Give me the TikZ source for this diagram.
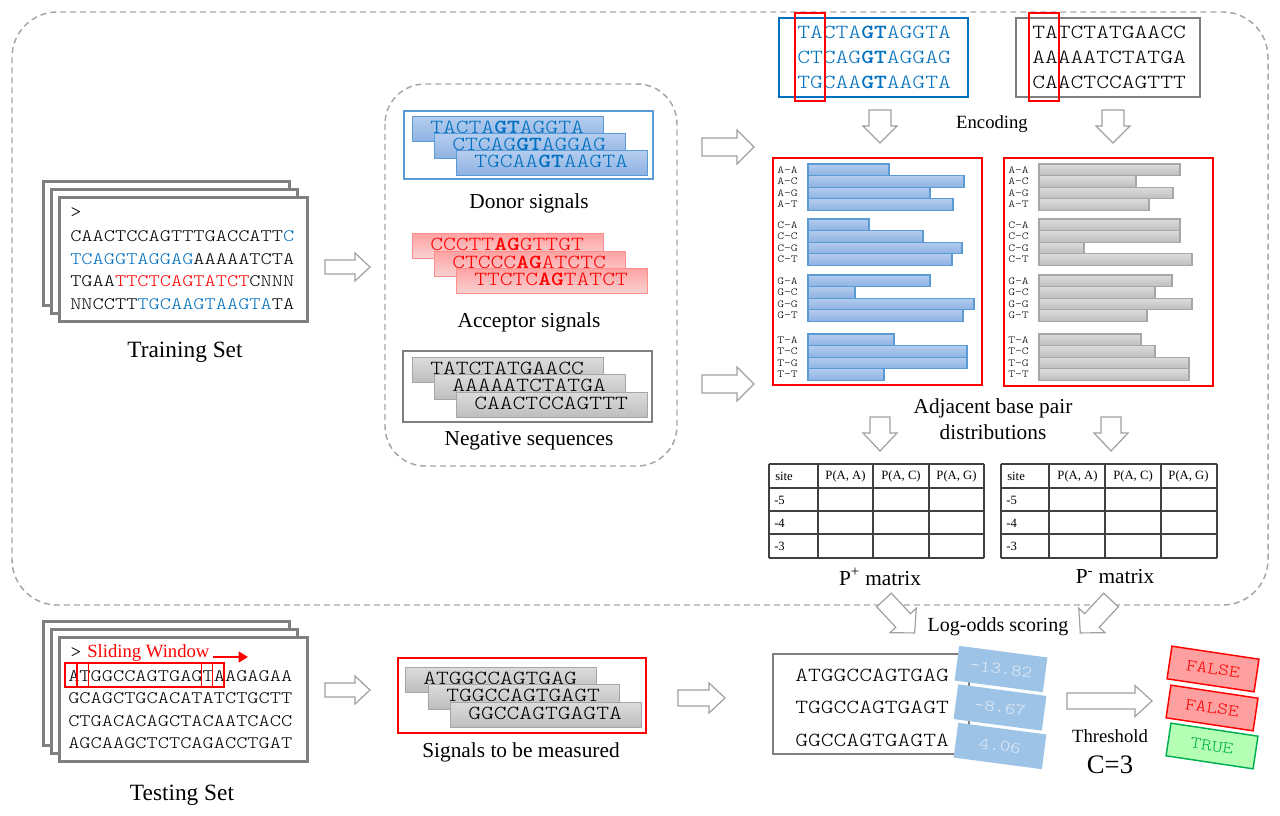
\documentclass[tikz,border=0pt]{standalone}
\usepackage{fontspec}
\setmainfont{Liberation Serif}
\setmonofont{lmmonolt10-regular.otf}[BoldFont=lmmonolt10-bold.otf, FakeStretch=1.219]
\usetikzlibrary{calc,arrows.meta}
\definecolor{seqblue}{HTML}{0070C0}
\definecolor{dashgray}{HTML}{A6A6A6}
\definecolor{framegray}{HTML}{7F7F7F}
\definecolor{arrowgray}{HTML}{A0A0A0}
\definecolor{bluebord}{HTML}{5B9BD5}
\definecolor{bluetop}{HTML}{B4CCEE}
\definecolor{bluebot}{HTML}{8DB2E2}
\definecolor{graybord}{HTML}{A6A6A6}
\definecolor{graytop}{HTML}{DCDCDC}
\definecolor{graybot}{HTML}{BEBEBE}
\definecolor{pinkbord}{HTML}{FF8F8F}
\definecolor{pinktop}{HTML}{FFA3A3}
\definecolor{pinkbot}{HTML}{F7D3D3}
\definecolor{scoreblue}{HTML}{9DC3E6}
\definecolor{scoretext}{HTML}{E4ECF6}
\definecolor{falsefill}{HTML}{FFA0A0}
\definecolor{truefill}{HTML}{B5FFB5}
\definecolor{truegreen}{HTML}{00B050}
\definecolor{tablegray}{HTML}{404040}
\newlength\px \setlength\px{0.75pt}
\newcommand\blockarrow[7]{%
  \begin{scope}[shift={(#1,#2)},rotate=#3]
    \draw[hollow] (0,-#6) -- ({#4-#5},-#6) -- ({#4-#5},-#7) -- (#4,0) -- ({#4-#5},#7) -- ({#4-#5},#6) -- (0,#6) -- cycle;
  \end{scope}}
\newcommand\seqstrip[5]{%
  \path[#4] (#2,#3) rectangle ++(191,25);
  \node[seq] (#1) at ({#2+18},{#3+17}) {#5};}
\begin{document}
\begin{tikzpicture}[x=0.75pt,y=-0.75pt,
  lbl/.style={font=\fontsize{16}{19}\selectfont, inner sep=0},
  lblbig/.style={font=\fontsize{17.5}{20}\selectfont, inner sep=0},
  lblsmall/.style={font=\fontsize{14}{17}\selectfont, inner sep=0},
  seq/.style={font=\fontsize{15}{18}\selectfont\ttfamily, inner sep=0, anchor=base west},
  tseq/.style={font=\fontsize{13.125}{16}\selectfont\ttfamily, inner sep=0, anchor=base west},
  barlbl/.style={font=\fontsize{8}{10}\selectfont\ttfamily, inner sep=0, anchor=west},
  tbltxt/.style={font=\fontsize{9.5}{11}\selectfont, inner sep=0},
  frame/.style={draw=framegray, line width=2.25pt, fill=white},
  hollow/.style={draw=arrowgray, fill=white, line width=0.9pt, line join=miter},
  dashbox/.style={draw=dashgray, line width=1.1pt, dash pattern=on 4.5pt off 3pt},
  bluestrip/.style={draw=bluebord, line width=0.75pt, top color=bluetop, bottom color=bluebot},
  graystrip/.style={draw=graybord, line width=0.75pt, top color=graytop, bottom color=graybot},
  pinkstrip/.style={draw=pinkbord, line width=0.75pt, top color=pinktop, bottom color=pinkbot},
  bluebar/.style={draw=bluebord, line width=1pt, top color=bluetop, bottom color=bluebot},
  graybar/.style={draw=graybord, line width=1pt, top color=graytop, bottom color=graybot},
  tbl/.style={draw=tablegray, line width=1.1pt},
  score/.style={fill=scoreblue, minimum width=89*\px, minimum height=35*\px, inner sep=0,
     font=\fontsize{12.2}{14}\selectfont\ttfamily, text=scoretext},
  verdict/.style={line width=1.1pt, minimum width=88*\px, minimum height=33*\px, inner sep=0,
     font=\fontsize{12.65}{14}\selectfont\ttfamily}
]
\useasboundingbox (0,0) rectangle (1280,816);
\fill[white] (0,0) rectangle (1280,816);

% dashed frames
\draw[dashbox, rounded corners=34pt] (12,12) rectangle (1268,605);
\draw[dashbox, rounded corners=30pt] (385,84) rectangle (677,466);

% ---------------- Training set
\draw[frame] (43,182) rectangle (289,306);
\draw[frame] (51,190) rectangle (297,314);
\draw[frame] (59,198) rectangle (307,322);
\node[tseq] (tr0) at (70,218) {>};
\node[tseq] (tr1) at (70,242) {CAACTCCAGTTTGACCATT\textcolor{seqblue}{C}};
\node[tseq] (tr2) at (70,264.5) {\textcolor{seqblue}{TCAGGTAGGAG}AAAAATCTA};
\node[tseq] (tr3) at (70,287) {TGAA\textcolor{red}{TTCTCAGTATCT}CNNN};
\node[tseq] (tr4) at (70,309.5) {NNCCTT\textcolor{seqblue}{TGCAAGTAAGTA}TA};
\node[lblbig] (trainlbl) at (185,352) {Training Set};

% ---------------- Signals
\draw[draw=bluebord, line width=1pt] (404,111) rectangle (653,179);
\seqstrip{d1}{412}{117}{bluestrip}{\textcolor{seqblue}{TACTA\textbf{GT}AGGTA}}
\seqstrip{d2}{434}{134}{bluestrip}{\textcolor{seqblue}{CTCAG\textbf{GT}AGGAG}}
\seqstrip{d3}{456}{151}{bluestrip}{\textcolor{seqblue}{TGCAA\textbf{GT}AAGTA}}
\node[lbl] (donorlbl) at (529,203) {Donor signals};

\seqstrip{a1}{412}{234}{pinkstrip}{\textcolor{red}{CCCTT\textbf{AG}GTTGT}}
\seqstrip{a2}{434}{252}{pinkstrip}{\textcolor{red}{CTCCC\textbf{AG}ATCTC}}
\seqstrip{a3}{456}{269}{pinkstrip}{\textcolor{red}{TTCTC\textbf{AG}TATCT}}
\node[lbl] (acclbl) at (529,322) {Acceptor signals};

\draw[draw=framegray, line width=1pt] (403,351) rectangle (652,422);
\seqstrip{n1}{412}{357}{graystrip}{TATCTATGAACC}
\seqstrip{n2}{434}{374.5}{graystrip}{AAAAATCTATGA}
\seqstrip{n3}{456}{392}{graystrip}{CAACTCCAGTTT}
\node[lbl] (neglbl) at (529,441) {Negative sequences};

% ---------------- Top aligned sequences
\draw[draw=seqblue, line width=1.1pt] (779,18) rectangle (968,97);
\node[seq, text=seqblue] (s1) at (797,39) {TACTA\textbf{GT}AGGTA};
\node[seq, text=seqblue] (s2) at (797,64) {CTCAG\textbf{GT}AGGAG};
\node[seq, text=seqblue] (s3) at (797,89) {TGCAA\textbf{GT}AAGTA};
\draw[red, line width=1.1pt] (795,13) rectangle (825,101);
\draw[draw=framegray, line width=1.1pt] (1016,18) rectangle (1200,97);
\node[seq] (g1) at (1032,39) {TATCTATGAACC};
\node[seq] (g2) at (1032,64) {AAAAATCTATGA};
\node[seq] (g3) at (1032,89) {CAACTCCAGTTT};
\draw[red, line width=1.1pt] (1029,13) rectangle (1059,101);
\node[lblsmall] (enc) at (992,124) {Encoding};

% ---------------- Bar charts
\draw[red, line width=1.1pt] (773,158) rectangle (982,385);
\foreach \g/\gy/\bA/\bC/\bG/\bT in {A/164/889/964/930/953, C/219/869/923/962/952, G/275/930/855/974/963, T/334/894/967/967/884}{
  \foreach \s/\i/\e in {A/0/\bA, C/1/\bC, G/2/\bG, T/3/\bT}{
    \path[bluebar] (808,{\gy+\i*11.6}) rectangle (\e,{\gy+(\i+1)*11.6});
    \node[barlbl] (L\g\s) at (777,{\gy+(\i+0.5)*11.6}) {\g-\s};
  }}
\draw[red, line width=1.1pt] (1004,158) rectangle (1213,386);
\foreach \g/\gy/\bA/\bC/\bG/\bT in {A/164/1180/1136/1173/1149, C/219/1180/1180/1084/1192, G/275/1172/1155/1192/1147, T/334/1141/1155/1189/1189}{
  \foreach \s/\i/\e in {A/0/\bA, C/1/\bC, G/2/\bG, T/3/\bT}{
    \path[graybar] (1039,{\gy+\i*11.6}) rectangle (\e,{\gy+(\i+1)*11.6});
    \node[barlbl] (R\g\s) at (1008,{\gy+(\i+0.5)*11.6}) {\g-\s};
  }}
\node[lbl] (adj1) at (993,408) {Adjacent base pair};
\node[lbl] (adj2) at (993,432) {distributions};

% ---------------- Matrices
\foreach \x in {769,818,873,929,984} \draw[tbl] (\x,464) -- (\x,558);
\foreach \y in {464,488,511,534,558} \draw[tbl] (769,\y) -- (984,\y);
\foreach \x in {1001,1049,1105,1161,1217} \draw[tbl] (\x,464) -- (\x,558);
\foreach \y in {464,488,511,534,558} \draw[tbl] (1001,\y) -- (1217,\y);
\foreach \side/\xo in {P/0, M/232}{
  \node[tbltxt, anchor=west] (\side site) at ({775+\xo},476) {site};
  \node[tbltxt] (\side c1) at ({845.5+\xo},476) {P(A, A)};
  \node[tbltxt] (\side c2) at ({901+\xo},476) {P(A, C)};
  \node[tbltxt] (\side c3) at ({956.5+\xo},476) {P(A, G)};
  \node[tbltxt, anchor=west] (\side r1) at ({774+\xo},500) {-5};
  \node[tbltxt, anchor=west] (\side r2) at ({774+\xo},523) {-4};
  \node[tbltxt, anchor=west] (\side r3) at ({774+\xo},546) {-3};
}
\node[lbl] (pplus) at (880,577) {P\textsuperscript{+} matrix};
\node[lbl] (pminus) at (1115,577) {P\textsuperscript{-} matrix};
\node[lbl, font=\fontsize{15}{18}\selectfont] (logodds) at (998,627) {Log-odds scoring};

% ---------------- Testing set
\draw[frame] (43,621) rectangle (289,745);
\draw[frame] (51,629) rectangle (297,753);
\draw[frame] (59,637) rectangle (307,761);
\node[tseq] (te0) at (70,657) {>};
\node[lblsmall, anchor=base west, text=red] (slide) at (87,657) {Sliding Window};
\coordinate (ra1) at (213,657);
\coordinate (ra2) at (248,657);
\draw[red, line width=2.2pt, -{Triangle[length=7pt,width=8pt]}] (ra1) -- (ra2);
\node[tseq] (te1) at (68,681) {ATGGCCAGTGAGTAAGAGAA};
\node[tseq] (te2) at (68,703) {GCAGCTGCACATATCTGCTT};
\node[tseq] (te3) at (68,726) {CTGACACAGCTACAATCACC};
\node[tseq] (te4) at (68,748) {AGCAAGCTCTCAGACCTGAT};
\draw[red, line width=0.8pt] (65,663) rectangle (201.5,687);
\draw[red, line width=0.8pt] (77,663) rectangle (212.5,687);
\draw[red, line width=0.8pt] (88.5,663) rectangle (224,687);
\node[lblbig] (testlbl) at (182,795) {Testing Set};

% ---------------- Signals to be measured
\draw[red, line width=1.1pt] (398,658) rectangle (646,733);
\seqstrip{m1}{405}{667}{graystrip}{ATGGCCAGTGAG}
\seqstrip{m2}{428}{684}{graystrip}{TGGCCAGTGAGT}
\seqstrip{m3}{450}{702}{graystrip}{GGCCAGTGAGTA}
\node[lbl] (measlbl) at (521,752) {Signals to be measured};

% ---------------- Scoring
\draw[draw=framegray, line width=0.9pt] (773,654) rectangle (969,754);
\node[seq] (l1) at (795,681) {ATGGCCAGTGAG};
\node[seq] (l2) at (795,713) {TGGCCAGTGAGT};
\node[seq] (l3) at (795,746) {GGCCAGTGAGTA};
\node[score, rotate=-7.5] (sc1) at (1001,669) {-13.82};
\node[score, rotate=-7.5] (sc2) at (1000,707.5) {-8.67};
\node[score, rotate=-7.5] (sc3) at (1000,746) {4.06};
\node[lblsmall] (thr) at (1110,736) {Threshold};
\node[lbl, font=\fontsize{20}{24}\selectfont] (cval) at (1110,765) {C=3};
\node[verdict, rotate=-8.5, draw=red, fill=falsefill, text=red] (v1) at (1213,669) {FALSE};
\node[verdict, rotate=-8.5, draw=red, fill=falsefill, text=red] (v2) at (1212,708) {FALSE};
\node[verdict, rotate=-8.5, draw=truegreen, fill=truefill, text=truegreen] (v3) at (1212,746) {TRUE};

% ---------------- Block arrows
\blockarrow{325}{267}{0}{45}{15}{7}{14}
\blockarrow{702}{147}{0}{52}{17}{9}{17}
\blockarrow{702}{384}{0}{52}{17}{9}{17}
\blockarrow{880}{110}{-90}{33}{17}{11}{17}
\blockarrow{1113}{110}{-90}{33}{17}{11}{17}
\blockarrow{880}{417}{-90}{34}{18}{10}{17}
\blockarrow{1111}{417}{-90}{34}{18}{10}{17}
\blockarrow{884}{600}{-47}{45}{17}{10}{18}
\blockarrow{1111}{600}{-133}{45}{17}{10}{18}
\blockarrow{325}{690}{0}{45}{15}{7}{14}
\blockarrow{678}{698}{0}{47}{16}{8}{15}
\blockarrow{1067}{701}{0}{85}{17}{8}{15.5}
\end{tikzpicture}
\end{document}
